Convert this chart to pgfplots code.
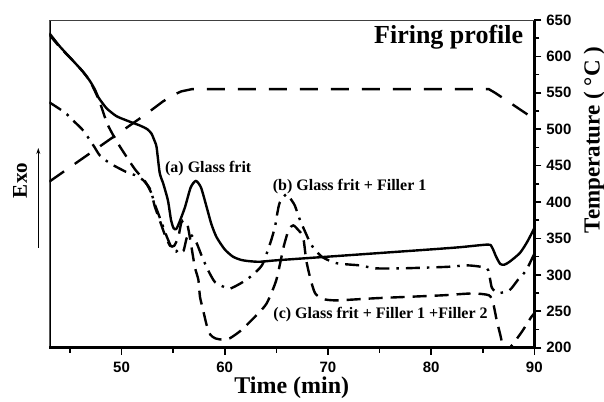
\documentclass[border=0pt]{standalone}
\usepackage{pgfplots}
\pgfplotsset{compat=1.18}
\usepackage{fontspec}
\setmainfont{Liberation Serif}
\setsansfont{Liberation Sans}
\usetikzlibrary{arrows.meta}
\begin{document}
\begin{tikzpicture}
\useasboundingbox (-49.3pt,-53.3pt) rectangle (554.7pt,347.7pt);
\begin{axis}[
  at={(0pt,0pt)}, anchor=south west,
  scale only axis, width=485pt, height=327.7pt,
  xmin=43, xmax=90, ymin=200, ymax=650,
  axis x line*=bottom, axis y line*=right,
  xtick={50,60,70,80,90}, minor xtick={45,55,65,75,85},
  ytick={200,250,...,650}, minor ytick={225,275,...,625},
  xtick align=outside, ytick align=outside,
  major tick length=7pt, minor tick length=5pt,
  every tick/.append style={draw=black, line width=1.6pt},
  axis line style={-, black, line width=2.6pt},
  tick label style={font=\fontsize{15}{15}\selectfont\sffamily\bfseries},
  xticklabel style={yshift=-3.5pt},
  yticklabel style={xshift=1.5pt},
  /pgf/number format/assume math mode=true,
  clip=true,
]
% firing profile (temperature)
\addplot[black, line width=2.4pt, dash pattern=on 18pt off 13pt] coordinates {
(43,428) (52.4,521) (54.0,538) (55.0,547) (55.8,552) (56.8,555) (85.6,555) (86.2,550) (88.0,533) (90.0,514)};
% (a) glass frit
\addplot[black, line width=2.4pt, smooth, tension=0.4] coordinates {
(43.0,632) (44.0,614) (45.3,594) (46.2,580) (46.9,567) (47.4,555) (47.75,544) (48.2,535) (48.6,528) (49.5,518)
(50.5,512) (51.8,505) (52.5,500) (52.9,494) (53.2,484) (53.4,475) (53.7,440) (54.05,425) (54.5,402) (54.8,375)
(55.05,364) (55.3,363) (55.6,372) (56.15,393) (56.7,420) (57.2,429) (57.7,420) (58.25,393) (58.7,370) (59.2,352)
(60.0,335) (60.8,325) (61.6,320.5) (62.4,318.8) (63.4,318) (65,320) (70,325) (75,330) (80,335) (82.8,338)
(85.5,341.6) (85.9,338) (86.3,325) (86.7,315) (87.1,314) (87.6,318) (88.6,330) (89.3,345) (90,364)};
% (b) glass frit + filler 1
\addplot[black, line width=2.4pt, smooth, tension=0.4, dash pattern=on 14pt off 7pt on 2.5pt off 7pt] coordinates {
(43.0,537) (44.5,523) (45.3,512) (46.3,498) (47.4,475) (47.9,464) (48.9,453) (50.5,441) (51.3,437) (52.1,430)
(52.76,418) (53.2,398) (53.8,375) (54.4,352) (54.9,336) (55.3,332) (55.6,336) (56.0,333) (56.3,350) (56.6,357)
(57.0,350) (57.3,343) (57.8,325) (58.4,306) (59.06,290) (60.0,283) (60.5,281) (61.5,288) (62.45,297) (63.6,313)
(64.4,343) (64.87,366) (65.1,385) (65.35,400) (66.0,411) (66.5,402) (66.8,395) (67.3,375) (67.8,359) (68.4,341)
(69.4,325) (70.85,316) (73.1,313) (74.6,309) (77.2,309) (81.5,311) (83.6,313) (85.4,309) (85.7,295) (85.9,282)
(86.5,275) (87.6,279) (88.4,293) (89.2,306) (90,329)};
% (c) glass frit + filler 1 + filler 2
\addplot[black, line width=2.4pt, smooth, tension=0.4, dash pattern=on 14pt off 8pt] coordinates {
(43.0,630) (44.0,613) (45.3,594) (46.2,580) (46.9,567) (47.4,553) (47.9,537) (48.3,520) (48.7,505) (49.5,484)
(50.4,464) (51.3,445) (52.3,428) (52.9,412) (53.2,395) (53.7,375) (54.2,355) (54.7,340) (55.1,340) (55.5,352)
(55.8,372) (56.1,375) (56.4,368) (56.7,345) (57.1,311) (57.45,293) (57.6,270) (57.9,252) (58.25,231) (58.6,218)
(59.06,213) (59.8,211) (60.5,213) (61.6,224) (63.1,245) (64.07,261) (65.0,293) (65.7,338) (66.2,362) (66.64,368)
(67.1,362) (67.6,352) (67.9,320) (68.3,295) (68.75,275) (69.5,267) (70.85,265) (74.7,268) (78,270) (81.2,272)
(84.0,274.5) (85.6,272) (86.0,262) (86.35,238) (86.7,218) (87.1,195) (87.7,201) (88.8,222) (89.7,242) (90,247)};
% left and top edges
\draw[black, line width=2.6pt] (rel axis cs:0,0) -- (rel axis cs:0,1);
\draw[black!75, line width=0.9pt] (rel axis cs:0,1) -- (rel axis cs:1,1);
% annotations
\node[font=\fontsize{16}{16}\selectfont\bfseries] at (axis cs:58.4,446) {(a) Glass frit};
\node[font=\fontsize{16}{16}\selectfont\bfseries] at (axis cs:72.1,421.5) {(b) Glass frit + Filler 1};
\node[font=\fontsize{16}{16}\selectfont\bfseries] at (axis cs:75.1,246) {(c) Glass frit + Filler 1 +Filler 2};
\node[font=\fontsize{26}{26}\selectfont\bfseries] at (axis cs:81.7,627) {Firing profile};
\end{axis}
\node[font=\fontsize{24}{24}\selectfont\bfseries] at (242.5pt,-40.5pt) {Time (min)};
\node[rotate=90, font=\fontsize{23}{23}\selectfont\bfseries] at (544.7pt,207.7pt) {Temperature (\hspace{0.25em}°C\hspace{0.25em})};
\node[rotate=90, font=\fontsize{21}{21}\selectfont\bfseries] at (-29.3pt,167.2pt) {Exo};
\draw[-{Stealth[length=6pt,width=4pt]}, line width=1.2pt] (-11pt,99.7pt) -- (-11pt,199.7pt);
\end{tikzpicture}
\end{document}
